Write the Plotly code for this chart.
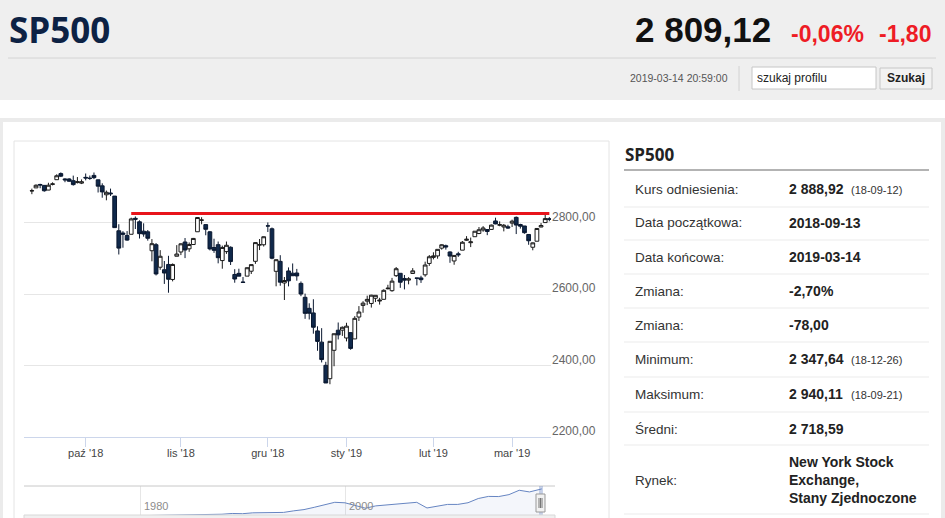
import plotly.graph_objects as go

W, H = 945, 518

# --- daily candles, SP500, 2018-09-12 .. 2019-03-14 ---
dates = (
    ["2018-09-%02d" % d for d in [12, 13, 14, 17, 18, 19, 20, 21, 24, 25, 26, 27, 28]]
    + ["2018-10-%02d" % d for d in [1, 2, 3, 4, 5, 8, 9, 10, 11, 12, 15, 16, 17, 18, 19, 22, 23, 24, 25, 26, 29, 30, 31]]
    + ["2018-11-%02d" % d for d in [1, 2, 5, 6, 7, 8, 9, 12, 13, 14, 15, 16, 19, 20, 21, 23, 26, 27, 28, 29, 30]]
    + ["2018-12-%02d" % d for d in [3, 4, 6, 7, 10, 11, 12, 13, 14, 17, 18, 19, 20, 21, 24, 26, 27, 28, 31]]
    + ["2019-01-%02d" % d for d in [2, 3, 4, 7, 8, 9, 10, 11, 14, 15, 16, 17, 18, 22, 23, 24, 25, 28, 29, 30, 31]]
    + ["2019-02-%02d" % d for d in [1, 4, 5, 6, 7, 8, 11, 12, 13, 14, 15, 19, 20, 21, 22, 25, 26, 27, 28]]
    + ["2019-03-%02d" % d for d in [1, 4, 5, 6, 7, 8, 11, 12, 13, 14]]
)

opens = [
    2888.29, 2896.85, 2906.38, 2903.83, 2890.74, 2906.60, 2919.73, 2936.76, 2921.83, 2921.75, 2916.98, 2911.65, 2910.03,
    2926.29, 2923.80, 2931.69, 2919.35, 2902.54, 2877.53, 2882.51, 2873.90, 2776.87, 2770.54, 2763.83, 2767.05,
    2811.67, 2802.00, 2775.66, 2773.94, 2721.03, 2737.87, 2674.88, 2667.86, 2682.65, 2640.68, 2705.60,
    2717.58, 2745.45, 2726.37, 2738.40, 2774.13, 2806.38, 2794.10, 2773.93, 2730.05, 2737.90, 2693.52,
    2718.54, 2730.74, 2654.60, 2657.74, 2633.36, 2649.97, 2663.75, 2691.45, 2736.97, 2737.76,
    2790.50, 2782.43, 2663.51, 2691.26, 2630.86, 2664.44, 2658.23, 2658.70, 2629.68, 2590.75, 2559.90,
    2547.05, 2496.77, 2465.38, 2400.56, 2363.12, 2442.50, 2498.77, 2498.94,
    2476.96, 2491.92, 2474.33, 2535.61, 2568.11, 2580.00, 2573.51, 2588.11, 2580.31, 2585.10, 2614.75,
    2609.28, 2651.27, 2657.88, 2643.48, 2638.84, 2657.44, 2644.97, 2644.89, 2653.62, 2685.49,
    2702.32, 2706.49, 2728.34, 2735.05, 2717.53, 2692.36, 2712.40, 2722.61, 2750.30, 2743.50, 2760.24,
    2769.28, 2779.05, 2780.24, 2780.67, 2804.35, 2792.36, 2787.50, 2788.11,
    2798.22, 2814.37, 2794.41, 2790.27, 2766.53, 2730.79, 2747.61, 2787.34, 2799.78, 2810.38,
]
highs = [
    2894.65, 2906.76, 2908.30, 2904.65, 2911.17, 2912.36, 2934.80, 2940.11, 2923.79, 2923.95, 2931.15, 2927.22, 2920.53,
    2937.06, 2931.42, 2939.86, 2919.78, 2909.64, 2889.45, 2894.83, 2874.02, 2795.14, 2775.77, 2775.99, 2813.46,
    2816.94, 2806.04, 2797.77, 2778.94, 2753.59, 2742.59, 2722.70, 2692.38, 2706.85, 2685.43, 2736.69,
    2741.67, 2756.55, 2744.27, 2756.82, 2815.15, 2814.75, 2794.10, 2775.99, 2754.60, 2746.80, 2735.38,
    2746.75, 2733.16, 2669.44, 2670.73, 2647.55, 2674.35, 2682.53, 2744.00, 2753.75, 2760.88,
    2800.18, 2785.93, 2696.15, 2708.54, 2647.51, 2674.35, 2685.44, 2670.19, 2635.07, 2601.13, 2573.99,
    2585.29, 2509.63, 2504.41, 2410.34, 2467.76, 2489.10, 2520.27, 2509.24,
    2519.49, 2493.14, 2538.07, 2566.16, 2579.82, 2595.32, 2597.82, 2596.27, 2589.32, 2613.08, 2625.76,
    2645.06, 2675.47, 2657.88, 2653.19, 2647.20, 2672.38, 2644.97, 2650.93, 2690.44, 2708.95,
    2716.66, 2724.99, 2738.98, 2738.08, 2719.32, 2708.07, 2718.05, 2748.19, 2761.85, 2757.90, 2775.66,
    2787.33, 2789.88, 2781.58, 2794.20, 2813.49, 2803.12, 2795.76, 2793.73,
    2808.02, 2816.88, 2796.44, 2790.27, 2766.53, 2744.13, 2784.00, 2798.32, 2821.24, 2815.00,
]
lows = [
    2879.20, 2896.39, 2895.77, 2886.16, 2890.43, 2903.82, 2919.73, 2927.11, 2912.63, 2913.70, 2903.28, 2909.27, 2907.50,
    2917.91, 2919.37, 2921.36, 2883.92, 2869.29, 2862.08, 2874.27, 2784.86, 2710.51, 2729.44, 2749.03, 2766.91,
    2781.81, 2755.18, 2760.27, 2749.22, 2691.43, 2651.89, 2667.84, 2628.16, 2603.54, 2635.34, 2705.60,
    2708.85, 2700.44, 2717.94, 2737.08, 2774.13, 2794.99, 2764.24, 2722.00, 2714.98, 2685.75, 2670.75,
    2712.16, 2681.09, 2631.52, 2649.82, 2631.09, 2649.97, 2655.89, 2684.38, 2722.94, 2732.76,
    2773.38, 2697.18, 2621.53, 2623.14, 2583.23, 2621.30, 2650.26, 2637.27, 2593.84, 2530.54, 2528.71,
    2488.96, 2441.18, 2408.55, 2351.10, 2347.64, 2397.94, 2472.89, 2482.82,
    2467.47, 2443.96, 2474.33, 2524.56, 2547.56, 2568.89, 2562.02, 2577.40, 2570.41, 2585.10, 2612.68,
    2606.36, 2647.58, 2617.27, 2612.86, 2627.01, 2657.33, 2624.06, 2631.05, 2648.34, 2678.65,
    2696.88, 2698.75, 2724.03, 2724.15, 2687.26, 2681.83, 2703.79, 2722.61, 2748.63, 2731.23, 2760.24,
    2767.29, 2774.06, 2764.55, 2779.11, 2794.99, 2789.47, 2775.13, 2782.51,
    2787.38, 2767.66, 2782.97, 2768.69, 2737.66, 2722.27, 2747.61, 2786.73, 2799.78, 2803.46,
]
closes = [
    2888.92, 2904.18, 2904.98, 2888.80, 2904.31, 2907.95, 2930.75, 2929.67, 2919.37, 2915.56, 2905.97, 2914.00, 2913.98,
    2924.59, 2923.43, 2925.51, 2901.61, 2885.57, 2884.43, 2880.34, 2785.68, 2728.37, 2767.13, 2750.79, 2809.92,
    2809.21, 2768.78, 2767.78, 2755.88, 2740.69, 2656.10, 2705.57, 2658.69, 2641.25, 2682.63, 2711.74,
    2740.37, 2723.06, 2738.31, 2755.45, 2813.89, 2806.83, 2781.01, 2726.22, 2722.18, 2701.58, 2730.20,
    2736.27, 2690.73, 2641.89, 2649.93, 2632.56, 2673.45, 2682.17, 2743.79, 2737.80, 2760.17,
    2790.37, 2700.06, 2695.95, 2633.08, 2637.72, 2636.78, 2651.07, 2650.54, 2599.95, 2545.94, 2546.16,
    2506.96, 2467.42, 2416.62, 2351.10, 2467.70, 2488.83, 2485.74, 2506.85,
    2510.03, 2447.89, 2531.94, 2549.69, 2574.41, 2584.96, 2596.64, 2596.26, 2582.61, 2610.30, 2616.10,
    2635.96, 2670.71, 2632.90, 2638.70, 2642.33, 2664.76, 2643.85, 2640.00, 2681.05, 2704.10,
    2706.53, 2724.87, 2737.70, 2731.61, 2706.05, 2707.88, 2709.80, 2744.73, 2753.03, 2745.73, 2775.60,
    2779.76, 2784.70, 2774.88, 2792.67, 2796.11, 2793.90, 2792.38, 2784.49,
    2803.69, 2792.81, 2789.65, 2771.45, 2748.93, 2743.07, 2783.30, 2791.52, 2810.92, 2809.12,
]

month_ticks = ["2018-10-01", "2018-11-01", "2018-12-03", "2019-01-02", "2019-02-01", "2019-03-01"]
month_labels = ["paź '18", "lis '18", "gru '18", "sty '19", "lut '19", "mar '19"]
price_ticks = [2200, 2400, 2600, 2800, 3000]
price_labels = ["2200,00", "2400,00", "2600,00", "2800,00", ""]

line_dates = ["2018-10-16", "2019-03-14"]
line_level = [2825, 2825]

# navigator (whole history, yearly)
nav_years = list(range(1970, 2019)) + [2019.2]
nav_values = [92, 102, 118, 97, 68, 90, 107, 95, 96, 108, 136, 122, 141, 165, 167, 211, 242, 247, 278, 353,
              330, 417, 436, 466, 459, 616, 741, 970, 1229, 1469, 1420, 1148, 880, 1112, 1212, 1248, 1418,
              1468, 903, 1115, 1258, 1258, 1426, 1848, 2059, 2044, 2239, 2674, 2507, 2810]
nav_ticks = [1980, 2000]

# header / info panel
title = "SP500"
last_price = "2 809,12"
change_pct = "-0,06%"
change_abs = "-1,80"
stamp = "2019-03-14 20:59:00"
row_labels = ["Kurs odniesienia:", "Data początkowa:", "Data końcowa:", "Zmiana:", "Zmiana:",
              "Minimum:", "Maksimum:", "Średni:", "Rynek:"]
row_values = ["2 888,92", "2018-09-13", "2019-03-14", "-2,70%", "-78,00",
              "2 347,64", "2 940,11", "2 718,59", "New York Stock<br>Exchange,<br>Stany Zjednoczone"]
row_notes = ["(18-09-12)", "", "", "", "", "(18-12-26)", "(18-09-21)", "", ""]


def px(x):
    return x / W


def py(y):
    return 1 - y / H


FONT = "Liberation Sans"

fig = go.Figure()
fig.add_trace(go.Candlestick(
    x=dates, open=opens, high=highs, low=lows, close=closes,
    increasing=dict(fillcolor="#ffffff", line=dict(color="#1a1a1a", width=1)),
    decreasing=dict(fillcolor="#10294b", line=dict(color="#0a1830", width=1)),
    whiskerwidth=0, showlegend=False, hoverinfo="skip",
))
fig.add_trace(go.Scatter(
    x=line_dates, y=line_level, mode="lines",
    line=dict(color="#e8141b", width=3), showlegend=False, hoverinfo="skip",
))
fig.add_trace(go.Scatter(
    x=nav_years, y=nav_values, mode="lines", xaxis="x2", yaxis="y2",
    line=dict(color="#6685c2", width=1), fill="tozeroy", fillcolor="rgba(102,133,194,0.07)",
    showlegend=False, hoverinfo="skip",
))

shapes = []


def rect(x0, y0, x1, y1, fill=None, line=None, lw=1, layer="below"):
    shapes.append(dict(type="rect", xref="paper", yref="paper", x0=px(x0), x1=px(x1), y0=py(y1), y1=py(y0),
                       fillcolor=fill or "rgba(0,0,0,0)", line=dict(color=line or "rgba(0,0,0,0)", width=lw),
                       layer=layer))


def hline(x0, x1, y, color, lw=1, layer="below"):
    shapes.append(dict(type="line", xref="paper", yref="paper", x0=px(x0), x1=px(x1), y0=py(y), y1=py(y),
                       line=dict(color=color, width=lw), layer=layer))


def vline(x, y0, y1, color, lw=1, layer="below"):
    shapes.append(dict(type="line", xref="paper", yref="paper", x0=px(x), x1=px(x), y0=py(y0), y1=py(y1),
                       line=dict(color=color, width=lw), layer=layer))


# page header
rect(0, 0, 945, 100, fill="#efefef")
hline(8, 936, 58, "#d4d4d4")
vline(739, 66, 91, "#d2d2d2")
rect(752, 67, 876, 89, fill="#ffffff", line="#c6c6c6")
rect(880, 68, 932, 89, fill="#f2f2f2", line="#c6c6c6")
# panel frame
rect(0, 118, 945, 122, fill="#ebebeb")
rect(0, 118, 3, 518, fill="#ebebeb")
rect(941, 118, 945, 518, fill="#ebebeb")
rect(14, 141, 609, 540, line="#e4e4e4")
# info table lines
hline(624, 929, 170, "#9a9a9a", lw=1.5)
for yy in [207, 240, 274, 308, 342, 377, 412, 445, 514]:
    hline(624, 929, yy, "#ebebeb")
# navigator
hline(24, 555, 486, "#c8c8c8", layer="above")
rect(539, 486, 543, 518, fill="rgba(102,133,194,0.35)", layer="above")
rect(536, 494, 545, 512, fill="#f2f2f2", line="#999999", layer="above")
for xx in [539, 540.5, 542]:
    vline(xx, 498, 508, "#777777", layer="above")
rect(24, 515, 555, 520, fill="#f0f0f0", line="#d8d8d8", layer="above")

ann = []


def text(x, y, s, size, color, anchor="left", weight=400, family=FONT):
    ann.append(dict(x=px(x), y=py(y), xref="paper", yref="paper", text=s, showarrow=False,
                    xanchor=anchor, yanchor="middle", align="left",
                    font=dict(family=family, size=size, color=color, weight=weight)))


text(7, 30, title, 35, "#0d2244", weight=700, family="Open Sans")
text(773, 30, last_price, 35, "#111111", anchor="right", weight=700)
text(789, 34, change_pct, 23, "#ee1c25", weight=700)
text(877, 34, change_abs, 23, "#ee1c25", weight=700)
text(730, 78, stamp, 10.5, "#555555", anchor="right")
text(755, 78, "szukaj profilu", 12, "#222222")
text(906, 78, "Szukaj", 12, "#222222", anchor="center", weight=700)

text(623, 154, title, 17, "#222222", weight=700, family="Open Sans")
row_y = [189, 223, 257, 291, 325, 359, 394, 429, 480]
for lab, val, note, yy in zip(row_labels, row_values, row_notes, row_y):
    text(633, yy, lab, 13.5, "#333333")
    text(787, yy, val, 14, "#222222", weight=700)
    if note:
        text(849, yy + 1, note, 11, "#333333")

for yr in nav_ticks:
    ann.append(dict(x=yr, y=py(506), xref="x2", yref="paper", text=str(yr), showarrow=False,
                    xanchor="left", yanchor="middle", xshift=2,
                    font=dict(family=FONT, size=11, color="#8c8c8c")))

# width/height come from the page div below (autosize), so the page is exactly W x H
fig.update_layout(
    margin=dict(l=0, r=0, t=0, b=0),
    paper_bgcolor="#ffffff", plot_bgcolor="#ffffff",
    boxgap=0.05, boxgroupgap=0.05,
    shapes=shapes, annotations=ann,
    xaxis=dict(
        type="category", domain=[px(24), px(551)], range=[-1.9, 125.4],
        tickvals=month_ticks, ticktext=month_labels,
        ticks="outside", ticklen=9, tickcolor="#ccd6eb",
        ticklabelstandoff=-3,
        showline=True, linecolor="#ccd6eb", showgrid=False,
        rangeslider=dict(visible=False),
        tickfont=dict(family=FONT, size=11, color="#444444"),
        anchor="y", fixedrange=True,
    ),
    yaxis=dict(
        domain=[py(437), py(151)], range=[2200, 3000], side="right",
        tickvals=price_ticks, ticktext=price_labels,
        showgrid=True, gridcolor="#e6e6e6", zeroline=False,
        ticklabelshift=-6, ticks="",
        tickfont=dict(family=FONT, size=12, color="#666666"),
        anchor="x", fixedrange=True,
    ),
    xaxis2=dict(
        domain=[px(24), px(555)], range=[1968.68, 2020.49], anchor="y2",
        tickvals=nav_ticks, showticklabels=False, showgrid=True, gridcolor="#e6e6e6",
        zeroline=False, showline=False, fixedrange=True,
    ),
    yaxis2=dict(
        domain=[0, py(486)], range=[-100, 3100], anchor="x2",
        showgrid=False, showticklabels=False, zeroline=False, fixedrange=True,
    ),
)

# negative margin cancels the browser's 8px body margin, so the div sits at the corner;
# once plotted, swap that for a zero body margin (same placement, no clipped frame)
unframe = (
    "document.body.style.margin='0';"
    "document.getElementById('{plot_id}').style.margin='0';"
)
fig.write_html("out.html", config={"displayModeBar": False},
               default_width="%dpx" % W, default_height="%dpx; margin:-8px" % H,
               post_script=unframe)
